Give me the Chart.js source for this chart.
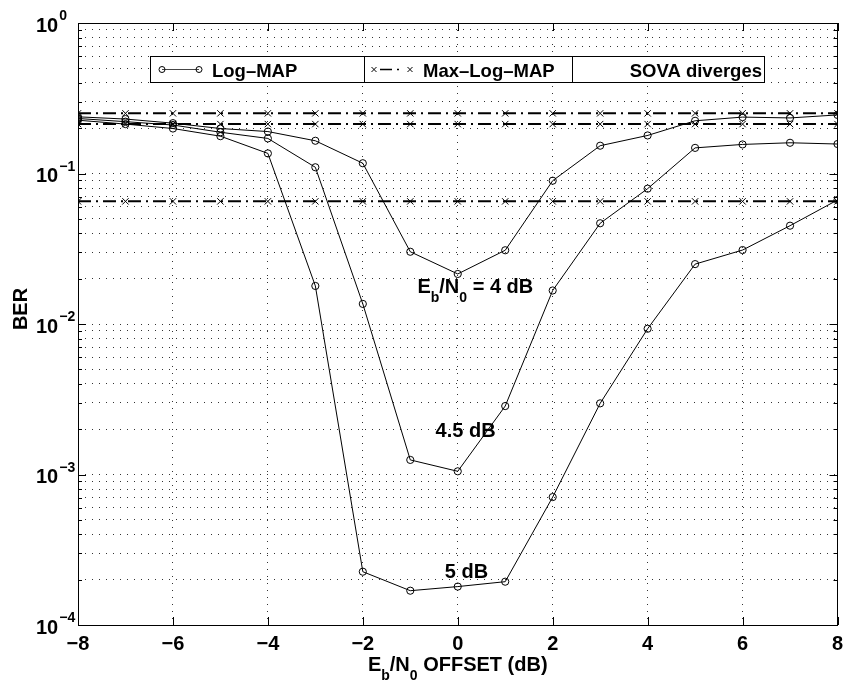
<!DOCTYPE html>
<html><head><meta charset="utf-8">
<script src="https://cdn.jsdelivr.net/npm/chart.js@4.4.0/dist/chart.umd.min.js"></script>
<style>html,body{margin:0;padding:0;background:#fff;}#wrap{width:843px;height:683px;}</style>
</head><body><div id="wrap"><canvas id="c" width="843" height="683"></canvas></div>
<script>
// ---- data ----
const offsetsDb = [-8,-7,-6,-5,-4,-3,-2,-1,0,1,2,3,4,5,6,7,8];
const logMap4dB  = [0.238,0.230,0.216,0.199,0.190,0.165,0.117,0.0302,0.0215,0.0309,0.0896,0.153,0.179,0.224,0.237,0.234,0.245];
const logMap45dB = [0.232,0.221,0.210,0.188,0.171,0.110,0.0136,0.00125,0.00105,0.00285,0.0167,0.0467,0.0793,0.148,0.156,0.160,0.157];
const logMap5dB  = [0.226,0.213,0.199,0.177,0.136,0.0179,0.000226,0.000169,0.000180,0.000194,0.000708,0.00297,0.0093,0.0250,0.0310,0.0450,0.0667];
const maxLogMap4dB  = [0.251,0.251,0.251,0.251,0.251,0.251,0.251,0.251,0.251,0.251,0.251,0.251,0.251,0.251,0.251,0.251,0.251];
const maxLogMap45dB = [0.213,0.213,0.213,0.213,0.213,0.213,0.213,0.213,0.213,0.213,0.213,0.213,0.213,0.213,0.213,0.213,0.213];
const maxLogMap5dB  = [0.0653,0.0653,0.0653,0.0653,0.0653,0.0653,0.0653,0.0653,0.0653,0.0653,0.0653,0.0653,0.0653,0.0653,0.0653,0.0653,0.0653];
const xTickValues = [-8,-6,-4,-2,0,2,4,6,8];
const xTickLabels = ['\u22128','\u22126','\u22124','\u22122','0','2','4','6','8'];
const yDecadeExps = [0,-1,-2,-3,-4];
const yDecadeSups = ['0','\u22121','\u22122','\u22123','\u22124'];
const legendLabels = ['Log\u2013MAP','Max\u2013Log\u2013MAP','SOVA diverges'];
const curveNotes = [
  {x:0.37, y:0.0161, parts:[['E',0],['b',1],['/N',0],['0',1],[' = 4 dB',0]]},
  {x:0.165, y:0.00177, parts:[['4.5 dB',0]]},
  {x:0.185, y:0.000205, parts:[['5 dB',0]]}
];

const FONT = '"Liberation Sans", Arial, Helvetica, sans-serif';
const DASHDOT = [13,5,2,5];
const pts = arr => offsetsDb.map((x,i)=>({x, y:arr[i]}));
const logStyle = {borderColor:'#000', borderWidth:1, pointStyle:'circle', pointRadius:3.6,
  pointBorderColor:'#000', pointBackgroundColor:'rgba(0,0,0,0)', pointBorderWidth:1, tension:0, fill:false};
const maxStyle = {borderColor:'#000', borderWidth:2, borderDash:DASHDOT, pointStyle:'crossRot', pointRadius:4.5,
  pointBorderColor:'#000', pointBorderWidth:1, tension:0, fill:false};

function drawRich(ctx, parts, x, y, size, subSize, subDy, align){
  let w = 0;
  parts.forEach(([t,s])=>{ ctx.font = 'bold '+(s?subSize:size)+'px '+FONT; w += ctx.measureText(t).width; });
  let cx = align==='center' ? x - w/2 : x;
  ctx.textAlign='left'; ctx.textBaseline='alphabetic';
  parts.forEach(([t,s])=>{ ctx.font = 'bold '+(s?subSize:size)+'px '+FONT; ctx.fillText(t, cx, y + (s?subDy:0)); cx += ctx.measureText(t).width; });
}

const decor = {
  id:'decor',
  beforeDraw(chart){ const c=chart.ctx; c.save(); c.fillStyle='#fff'; c.fillRect(0,0,chart.width,chart.height); c.restore(); },
  afterDraw(chart){
    const ctx = chart.ctx, a = chart.chartArea, xs = chart.scales.x, ys = chart.scales.y;
    ctx.save();
    ctx.strokeStyle='#000'; ctx.lineWidth=1; ctx.setLineDash([]);
    ctx.beginPath();
    xTickValues.forEach(v=>{ const px=Math.round(xs.getPixelForValue(v))+0.5;
      ctx.moveTo(px,a.bottom); ctx.lineTo(px,a.bottom-8); ctx.moveTo(px,a.top); ctx.lineTo(px,a.top+8); });
    ys.ticks.forEach(t=>{ const py=Math.round(ys.getPixelForValue(t.value))+0.5;
      const major = Math.abs(Math.log10(t.value)-Math.round(Math.log10(t.value)))<1e-9; const L = major?8:4;
      ctx.moveTo(a.left,py); ctx.lineTo(a.left+L,py); ctx.moveTo(a.right,py); ctx.lineTo(a.right-L,py); });
    ctx.stroke();
    ctx.strokeRect(Math.round(a.left)+0.5, Math.round(a.top)+0.5, Math.round(a.right-a.left)-1, Math.round(a.bottom-a.top));
    ctx.fillStyle='#000';
    ctx.font='bold 20px '+FONT; ctx.textAlign='center'; ctx.textBaseline='alphabetic';
    xTickValues.forEach((v,i)=>{ ctx.fillText(xTickLabels[i], xs.getPixelForValue(v), 650); });
    yDecadeExps.forEach((e,i)=>{ const py = ys.getPixelForValue(Math.pow(10,e));
      ctx.textAlign='left'; ctx.font='bold 20px '+FONT; ctx.fillText('10', 36, py+8.5);
      const w = ctx.measureText('10').width; ctx.font='bold 14px '+FONT; ctx.fillText(yDecadeSups[i], 36+w+1, py-3); });
    drawRich(ctx, [['E',0],['b',1],['/N',0],['0',1],[' OFFSET (dB)',0]], (a.left+a.right)/2, 671, 20, 14, 8.5, 'center');
    ctx.save(); ctx.translate(27, 309); ctx.rotate(-Math.PI/2); ctx.font='bold 20px '+FONT; ctx.textAlign='center';
    ctx.fillText('BER', 0, 0); ctx.restore();
    curveNotes.forEach(n=>{ drawRich(ctx, n.parts, xs.getPixelForValue(n.x), ys.getPixelForValue(n.y), 20, 14, 9.5, 'center'); });
    // legend
    const L0=150.5, T0=56.5, R0=764.5, B0=82.5, d1=364.5, d2=572.5, cy=69.5;
    ctx.fillStyle='#fff'; ctx.fillRect(L0,T0,R0-L0,B0-T0);
    ctx.strokeStyle='#000'; ctx.lineWidth=1; ctx.strokeRect(L0,T0,R0-L0,B0-T0);
    ctx.beginPath(); ctx.moveTo(d1,T0); ctx.lineTo(d1,B0); ctx.moveTo(d2,T0); ctx.lineTo(d2,B0); ctx.stroke();
    ctx.strokeStyle='#444';
    ctx.beginPath(); ctx.moveTo(162,cy); ctx.lineTo(199,cy); ctx.stroke();
    ctx.strokeStyle='#000';
    [162,199].forEach(px=>{ ctx.beginPath(); ctx.arc(px,cy,3,0,Math.PI*2); ctx.stroke(); });
    ctx.lineWidth=1.5; ctx.setLineDash([12,5,2,50]); ctx.beginPath(); ctx.moveTo(380,cy); ctx.lineTo(406,cy); ctx.stroke(); ctx.setLineDash([]);
    ctx.lineWidth=1;
    [374,410].forEach(px=>{ ctx.beginPath(); ctx.moveTo(px-2.5,cy-2.5); ctx.lineTo(px+2.5,cy+2.5); ctx.moveTo(px-2.5,cy+2.5); ctx.lineTo(px+2.5,cy-2.5); ctx.stroke(); });
    ctx.fillStyle='#000'; ctx.font='bold 18.5px '+FONT; ctx.textAlign='left';
    ctx.fillText(legendLabels[0], 212, 76.5);
    ctx.fillText(legendLabels[1], 423, 76.5);
    ctx.textAlign='right'; ctx.fillText(legendLabels[2], 762, 76.5);
    ctx.restore();
  }
};

new Chart(document.getElementById('c'), {
  type:'line',
  data:{ datasets:[
    Object.assign({label:'Log-MAP 4 dB', data:pts(logMap4dB)}, logStyle),
    Object.assign({label:'Log-MAP 4.5 dB', data:pts(logMap45dB)}, logStyle),
    Object.assign({label:'Log-MAP 5 dB', data:pts(logMap5dB)}, logStyle),
    Object.assign({label:'Max-Log-MAP 4 dB', data:pts(maxLogMap4dB)}, maxStyle),
    Object.assign({label:'Max-Log-MAP 4.5 dB', data:pts(maxLogMap45dB)}, maxStyle),
    Object.assign({label:'Max-Log-MAP 5 dB', data:pts(maxLogMap5dB)}, maxStyle)
  ]},
  options:{
    responsive:false, animation:false, devicePixelRatio:1,
    layout:{padding:{top:23,right:2,left:0,bottom:0}},
    plugins:{legend:{display:false}, tooltip:{enabled:false}, title:{display:false}},
    elements:{line:{borderCapStyle:'butt'}},
    scales:{
      x:{ type:'linear', min:-8, max:8,
        afterBuildTicks(s){ s.ticks = xTickValues.map(v=>({value:v})); },
        afterFit(s){ s.height = 58; },
        ticks:{display:false, autoSkip:false},
        grid:{color:'#333', lineWidth:1, drawTicks:false},
        border:{display:false, dash:[1,6]} },
      y:{ type:'logarithmic', min:1e-4, max:1,
        afterBuildTicks(s){ const t=[]; for(let e=-4;e<0;e++){ for(let m=1;m<10;m++){ t.push({value:m*Math.pow(10,e)}); } } t.push({value:1}); s.ticks=t; },
        afterFit(s){ s.width = 78; },
        ticks:{display:false, autoSkip:false},
        grid:{color:'#333', lineWidth:1, drawTicks:false},
        border:{display:false, dash:[1,6]} }
    }
  },
  plugins:[decor]
});
</script></body></html>
